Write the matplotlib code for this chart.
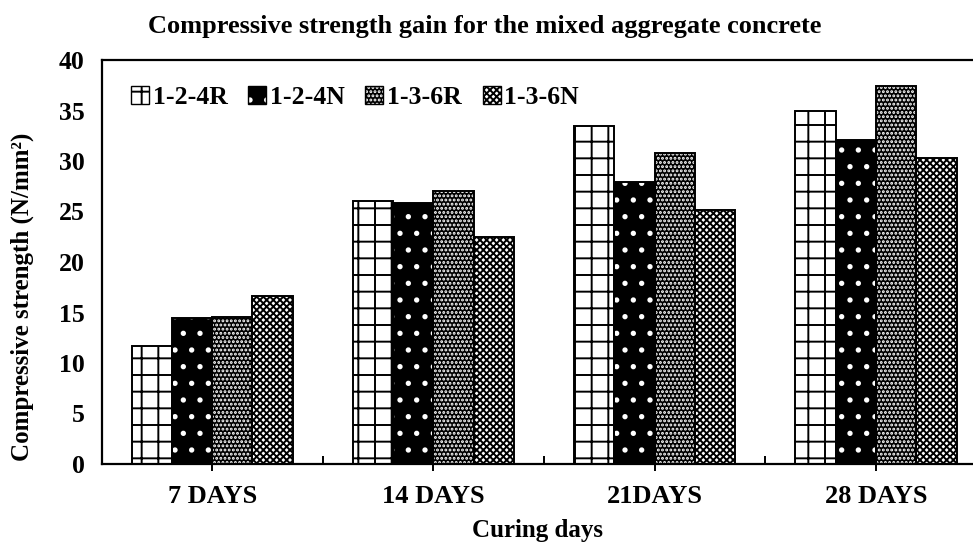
import matplotlib as mpl
import matplotlib.pyplot as plt
import numpy as np
from matplotlib.patches import Patch

mpl.rcParams.update(
    {
        "font.family": "Liberation Serif",
        "font.weight": "bold",
        "axes.labelweight": "bold",
        "hatch.linewidth": 1.4,
    }
)

categories = ["7 DAYS", "14 DAYS", "21DAYS", "28 DAYS"]
series_names = ["1-2-4R", "1-2-4N", "1-3-6R", "1-3-6N"]
r124 = [11.7, 26.0, 33.5, 35.0]
n124 = [14.5, 25.8, 27.9, 32.1]
r136 = [14.6, 27.0, 30.8, 37.4]
n136 = [16.6, 22.5, 25.1, 30.3]
yticks = [0, 5, 10, 15, 20, 25, 30, 35, 40]

series = [r124, n124, r136, n136]
# (face colour, hatch colour, hatch)
styles = [
    ("white", "black", "+"),
    ("black", "white", "."),
    ("black", "white", "...."),
    ("white", "black", "xxxxx"),
]

fig = plt.figure(figsize=(9.73, 5.42), dpi=100)
ax = fig.add_axes([101.5 / 973, 78 / 542, 1 - 101.5 / 973, 404 / 542])

x = np.arange(len(categories))
width = 0.182
handles = []
for i, (vals, name, (fc, hc, hatch)) in enumerate(zip(series, series_names, styles)):
    pos = x + (i - 1.5) * width
    ax.bar(pos, vals, width, color=fc, edgecolor=hc, hatch=hatch, linewidth=0, zorder=2)
    ax.bar(pos, vals, width, fill=False, edgecolor="black", linewidth=1.4, zorder=3)
    handles.append(
        (
            Patch(facecolor=fc, edgecolor=hc, hatch=hatch, linewidth=0),
            Patch(fill=False, edgecolor="black", linewidth=1.0),
        )
    )

ax.set_xlim(-0.5, (973 - 101.5) / 221.3 - 0.5)
ax.set_ylim(0, 40)
ax.set_yticks(yticks)
ax.set_xticks(x)
ax.set_xticklabels(categories)
ax.set_xticks(x[:-1] + 0.5, minor=True)
ax.tick_params(axis="y", length=0, pad=12, labelsize=18.5)
ax.tick_params(axis="x", which="major", direction="out", length=5, width=1.4, pad=10, labelsize=19)
ax.tick_params(axis="x", which="minor", direction="in", length=6, width=1.4)

for side in ["left", "bottom", "top"]:
    ax.spines[side].set_linewidth(1.6)
ax.spines["right"].set_visible(False)

ax.set_xlabel("Curing days", fontsize=18, labelpad=8)
ax.set_ylabel("Compressive strength (N/mm²)", fontsize=18)
ax.yaxis.set_label_coords(-0.078, 0.415)
fig.text(0.498, 0.951, "Compressive strength gain for the mixed aggregate concrete",
         ha="center", va="center", fontsize=19)

ax.legend(handles=handles, labels=series_names, ncol=4, loc="upper left",
          bbox_to_anchor=(0.022, 0.962), frameon=False, fontsize=18.5,
          handlelength=0.7, handleheight=0.7, handletextpad=0.15,
          columnspacing=0.8, borderaxespad=0)

fig.savefig("out.png", dpi=100, facecolor="white")
